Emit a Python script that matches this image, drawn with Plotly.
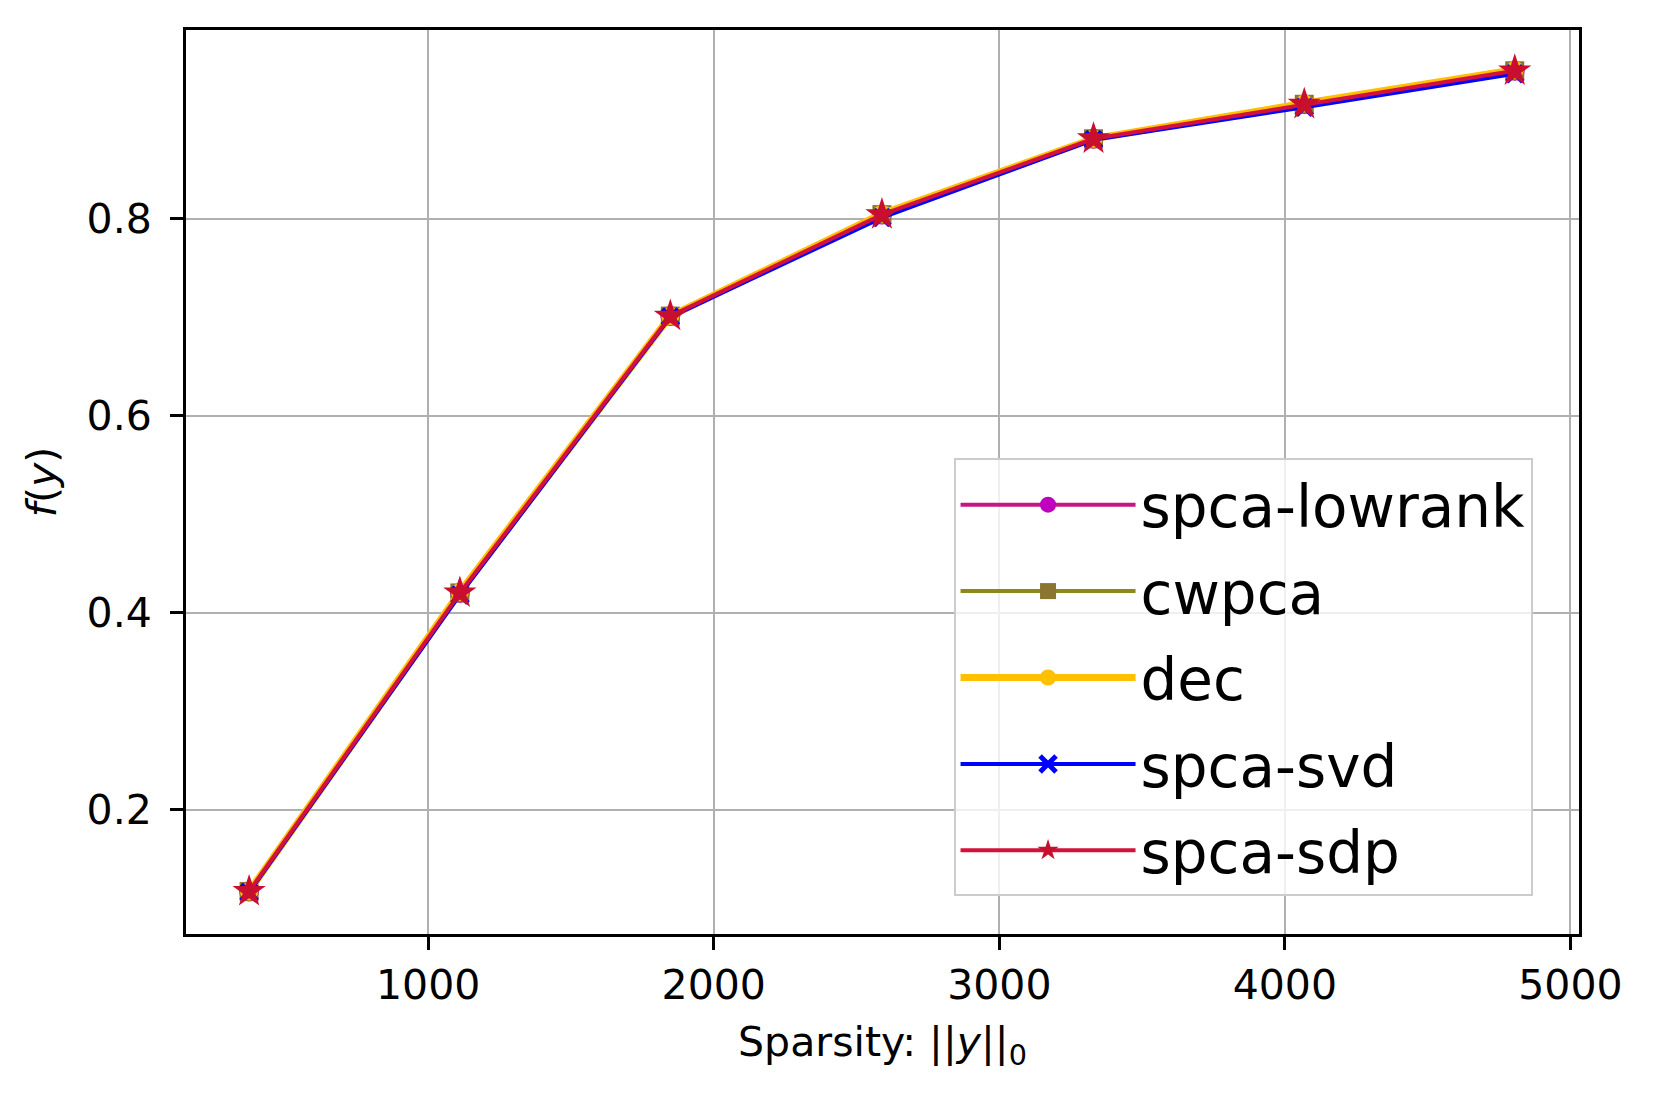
import plotly.graph_objs as go

# values
sparsity = [373, 1111, 1848, 2589, 3330, 4068, 4805]
lowrank = [0.117, 0.420, 0.701, 0.804, 0.881, 0.916, 0.950]
cwpca = [0.117, 0.420, 0.701, 0.804, 0.881, 0.916, 0.950]
dec = [0.117, 0.421, 0.701, 0.805, 0.881, 0.917, 0.951]
svd = [0.116, 0.418, 0.700, 0.801, 0.880, 0.913, 0.947]
sdp = [0.117, 0.420, 0.701, 0.804, 0.881, 0.916, 0.950]

x_ticks = [1000, 2000, 3000, 4000, 5000]
y_ticks = [0.2, 0.4, 0.6, 0.8]

fig = go.Figure()

fig.add_trace(go.Scatter(x=sparsity, y=lowrank, mode='lines+markers', name='spca-lowrank',
                         legendgroup='a',
                         line=dict(color='#c71585', width=4),
                         marker=dict(symbol='circle', size=20, color='#bf00bf')))
fig.add_trace(go.Scatter(x=sparsity, y=cwpca, mode='lines+markers', name='cwpca',
                         legendgroup='b',
                         line=dict(color='#8a8a1a', width=4),
                         marker=dict(symbol='square', size=19, color='#8b7530')))
fig.add_trace(go.Scatter(x=sparsity, y=dec, mode='lines+markers', name='dec',
                         legendgroup='c',
                         line=dict(color='#ffc000', width=7),
                         marker=dict(symbol='circle', size=18, color='#ffc000')))
fig.add_trace(go.Scatter(x=sparsity, y=svd, mode='lines+markers', name='spca-svd',
                         legendgroup='d',
                         line=dict(color='#0000ff', width=4),
                         marker=dict(symbol='x-thin', size=16, color='#0000ff',
                                     line=dict(width=5, color='#0000ff'))))
fig.add_trace(go.Scatter(x=sparsity, y=sdp, mode='lines+markers', name='spca-sdp',
                         legendgroup='e',
                         line=dict(color='#d4103c', width=4),
                         marker=dict(symbol='star', size=25, color='#c8102e')))

axis_common = dict(
    showline=True, linecolor='black', linewidth=3, mirror=True,
    showgrid=True, gridcolor='#b0b0b0', gridwidth=2,
    ticks='outside', ticklen=13, tickwidth=3, tickcolor='black',
    zeroline=False,
    tickfont=dict(family='DejaVu Sans', size=41, color='black'),
)

fig.update_xaxes(range=[152, 5030], tickvals=x_ticks,
                 title=dict(text='Sparsity: ||<i>y</i>||<sub>0</sub>',
                            font=dict(family='DejaVu Sans', size=41, color='black'),
                            standoff=20),
                 **axis_common)
fig.update_yaxes(range=[0.0738, 0.9914], tickvals=y_ticks, tickformat='.1f',
                 ticklabelstandoff=10,
                 title=dict(text='<i>f</i>(<i>y</i>)',
                            font=dict(family='DejaVu Sans', size=41, color='black'),
                            standoff=18),
                 **axis_common)

fig.update_layout(
    width=1653, height=1096,
    margin=dict(l=178, r=82, t=22, b=170),
    paper_bgcolor='white', plot_bgcolor='white',
    font=dict(family='DejaVu Sans', color='black'),
    legend=dict(x=0.551, y=0.526, xanchor='left', yanchor='top',
                bgcolor='rgba(255,255,255,0.8)', bordercolor='#cccccc', borderwidth=2,
                font=dict(family='DejaVu Sans', size=58, color='black'),
                itemwidth=175, entrywidth=420, tracegroupgap=8, traceorder='grouped'),
    showlegend=True,
)

fig.write_html("out.html")
